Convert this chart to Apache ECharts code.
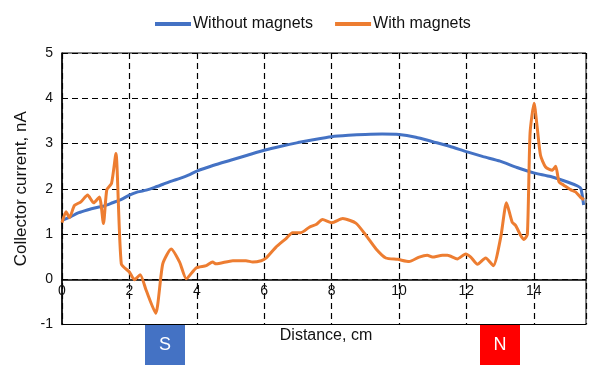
<!DOCTYPE html>
<html>
<head>
<meta charset="utf-8">
<script src="https://cdn.jsdelivr.net/npm/echarts@6/dist/echarts.min.js"></script>
<style>html,body{margin:0;padding:0;background:#fff}#c{width:589px;height:365px}</style>
</head>
<body>
<div id="c"></div>
<script>
var seriesNames = ['Without magnets', 'With magnets'];
var xTicks = [0, 2, 4, 6, 8, 10, 12, 14];
var yTicks = [-1, 0, 1, 2, 3, 4, 5];

var withoutX = [0,0.25,0.5,0.75,1,1.25,1.5,1.75,2,2.25,2.5,2.75,3,3.25,3.5,3.75,4,4.5,5,5.5,6,6.5,7,7.5,8,8.5,9,9.5,10,10.5,11,11.5,12,12.5,13,13.5,14,14.5,15,15.3,15.4,15.48];
var withoutY = [1.3,1.38,1.47,1.53,1.58,1.62,1.69,1.76,1.86,1.93,1.97,2.03,2.1,2.17,2.23,2.3,2.39,2.52,2.63,2.74,2.85,2.94,3.02,3.09,3.15,3.18,3.2,3.21,3.2,3.14,3.04,2.94,2.82,2.71,2.61,2.47,2.35,2.27,2.15,2.06,2.0,1.64];

var withX = [0,0.12,0.22,0.37,0.56,0.76,0.94,1.11,1.23,1.33,1.47,1.6,1.76,2.0,2.15,2.32,2.5,2.78,2.99,3.24,3.49,3.69,3.98,4.28,4.47,4.57,5.07,5.46,5.66,5.91,6.06,6.35,6.65,6.84,7.09,7.34,7.54,7.73,8.01,8.33,8.72,9.02,9.32,9.61,9.96,10.3,10.6,10.84,10.99,11.29,11.44,11.73,11.98,12.13,12.33,12.57,12.8,13.02,13.19,13.36,13.46,13.61,13.71,13.81,13.89,14.01,14.1,14.2,14.35,14.55,14.65,14.75,14.89,15.09,15.24,15.39,15.49];
var withY = [1.25,1.49,1.36,1.63,1.71,1.86,1.69,1.82,1.23,1.98,2.12,2.78,0.34,0.16,-0.01,0.1,-0.25,-0.75,0.34,0.67,0.38,0.01,0.25,0.3,0.38,0.34,0.41,0.41,0.38,0.41,0.47,0.71,0.9,1.03,1.03,1.15,1.21,1.32,1.25,1.34,1.24,0.97,0.67,0.47,0.44,0.39,0.49,0.53,0.49,0.53,0.53,0.45,0.56,0.49,0.33,0.47,0.3,0.93,1.69,1.26,1.19,0.97,0.88,0.99,3.23,3.89,3.37,2.74,2.48,2.41,2.5,2.15,2.08,1.98,1.93,1.81,1.76];

function zip(a, b) { return a.map(function (v, i) { return [v, b[i]]; }); }

var dash = { color: '#000', width: 1.2, type: [6, 4] };
var font = 'Liberation Sans, Arial, sans-serif';

var chart = echarts.init(document.getElementById('c'), null, { renderer: 'canvas' });
chart.setOption({
  animation: false,
  backgroundColor: '#fff',
  textStyle: { fontFamily: font },
  legend: {
    left: 150, top: 11,
    itemWidth: 36, itemHeight: 4, itemGap: 22,
    textStyle: { fontSize: 16, color: '#111', fontFamily: font, padding: [0, 0, 0, -3] },
    data: [
      { name: seriesNames[0], icon: 'rect' },
      { name: seriesNames[1], icon: 'rect' }
    ]
  },
  grid: {
    left: 62, right: 2, top: 53, bottom: 40.5,
    show: true, borderColor: '#000', borderWidth: 1, backgroundColor: 'transparent'
  },
  xAxis: {
    type: 'value', min: 0, max: 15.55, interval: 2,
    axisLine: { onZero: true, lineStyle: { color: '#000', width: 1.5 } },
    axisTick: { show: false },
    axisLabel: {
      color: '#111', fontSize: 14, margin: -40, fontFamily: font,
      formatter: function (v) { return xTicks.indexOf(v) >= 0 ? String(v) : ''; }
    },
    splitLine: { show: true, lineStyle: dash }
  },
  yAxis: {
    type: 'value', min: yTicks[0], max: yTicks[yTicks.length - 1], interval: 1,
    name: 'Collector current, nA', nameLocation: 'middle', nameGap: 28,
    nameTextStyle: { fontSize: 17, color: '#111', fontFamily: font },
    axisLine: { show: true, lineStyle: { color: '#000', width: 1.5 } },
    axisTick: { show: false },
    axisLabel: { color: '#111', fontSize: 14, margin: 9, fontFamily: font },
    splitLine: { show: true, lineStyle: dash }
  },
  graphic: [
    { type: 'text', x: 326, y: 336, style: { text: 'Distance, cm', fill: '#111', font: '16px ' + font, align: 'center', verticalAlign: 'middle' } },
    { type: 'rect', shape: { x: 145, y: 325, width: 40, height: 40 }, style: { fill: '#4472C4' } },
    { type: 'text', x: 165, y: 345, style: { text: 'S', fill: '#fff', font: '18px ' + font, align: 'center', verticalAlign: 'middle' } },
    { type: 'rect', shape: { x: 480, y: 325, width: 40, height: 40 }, style: { fill: '#FF0000' } },
    { type: 'text', x: 500, y: 345, style: { text: 'N', fill: '#fff', font: '18px ' + font, align: 'center', verticalAlign: 'middle' } }
  ],
  series: [
    {
      name: seriesNames[0], type: 'line', data: zip(withoutX, withoutY),
      showSymbol: false, smooth: 0.2, color: '#4472C4',
      lineStyle: { width: 3, color: '#4472C4' }
    },
    {
      name: seriesNames[1], type: 'line', data: zip(withX, withY),
      showSymbol: false, smooth: 0.2, color: '#ED7D31',
      lineStyle: { width: 3, color: '#ED7D31' }
    }
  ]
});
</script>
</body>
</html>
